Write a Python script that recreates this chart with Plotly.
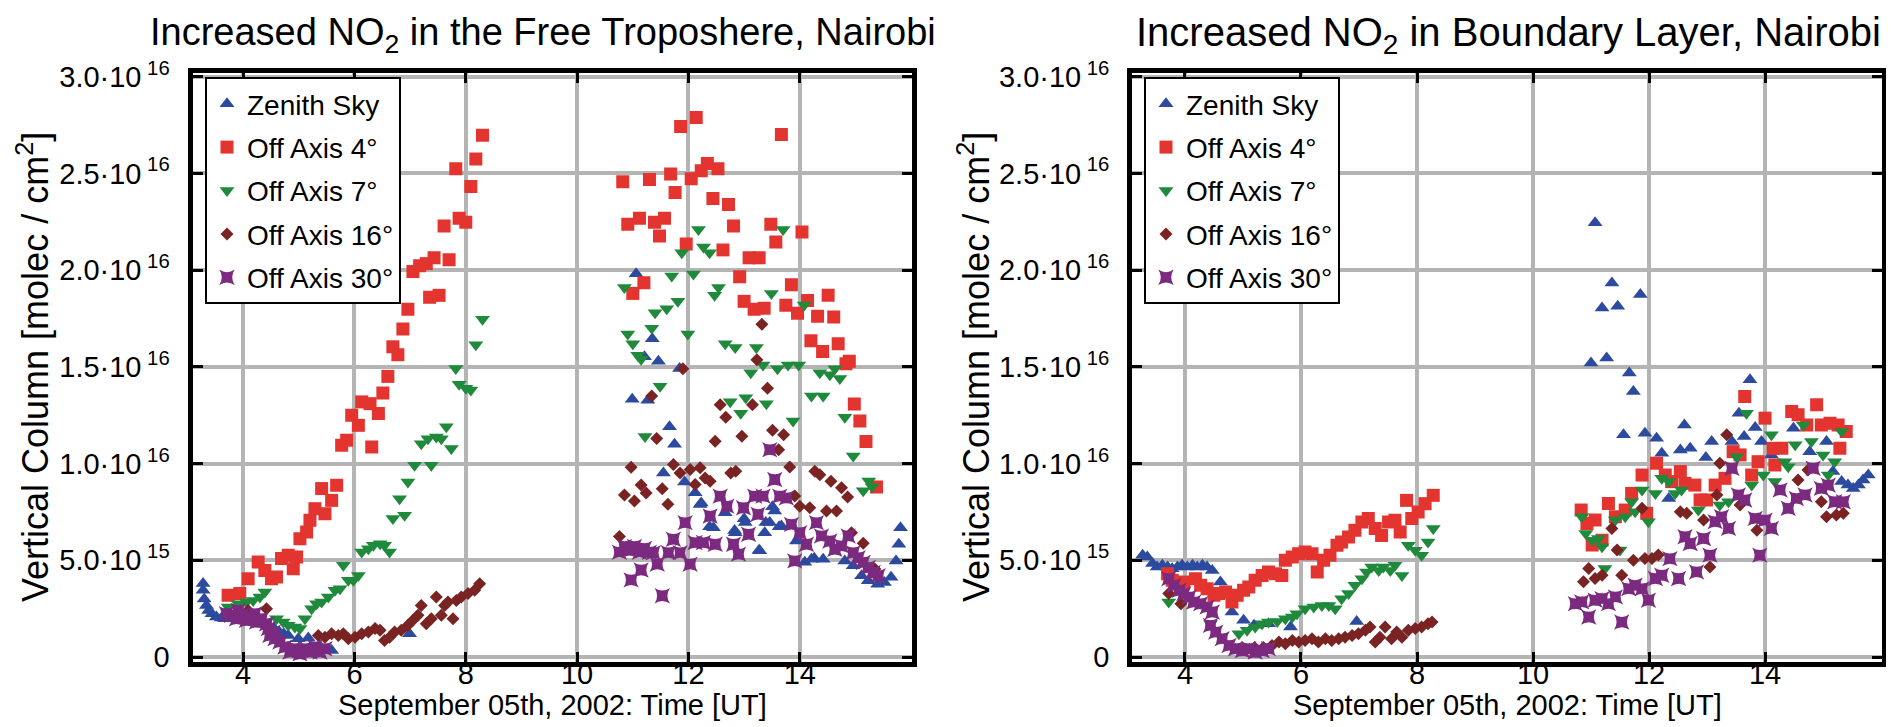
import plotly.graph_objects as go

# ---------------- data (vertical column in units of 1e16 molec/cm^2) ----------------
# Left panel: Increased NO2 in the Free Troposphere
ft_zen_t = [3.28, 3.28, 3.30, 3.34, 3.38, 3.44, 3.52, 3.61, 3.67, 3.75, 3.85, 3.95, 4.05, 4.15, 4.25, 4.35, 4.45, 4.55, 4.65, 4.73, 4.81, 4.99, 5.17, 5.38, 5.59, 6.99,
            10.99, 11.06, 11.21, 11.27, 11.35, 11.46, 11.55, 11.66, 11.75, 11.84, 11.93, 12.12, 12.21, 12.23, 12.38, 12.45, 12.66, 12.83, 12.84, 13.00, 13.02, 13.27, 13.28, 13.37, 13.39, 13.46, 13.51, 13.55, 13.63, 13.67, 13.94, 14.09, 14.21, 14.26, 14.42, 14.81, 14.96, 15.11, 15.23, 15.40, 15.52, 15.64, 15.73, 15.78, 15.81]
ft_zen_v = [0.38, 0.345, 0.30, 0.267, 0.241, 0.224, 0.207, 0.202, 0.198, 0.20, 0.20, 0.19, 0.19, 0.18, 0.18, 0.17, 0.16, 0.15, 0.13, 0.12, 0.112, 0.095, 0.098, 0.057, 0.034, 0.121,
            1.333, 1.982, 1.553, 1.328, 1.645, 1.529, 0.952, 1.19, 1.10, 1.492, 0.905, 0.849, 0.789, 0.797, 0.674, 0.669, 0.746, 0.654, 0.643, 0.715, 0.695, 0.552, 0.549, 0.643, 0.695, 0.695, 0.777, 0.755, 0.674, 0.678, 0.60, 0.49, 0.506, 0.511, 0.506, 0.497, 0.472, 0.42, 0.394, 0.377, 0.386, 0.412, 0.497, 0.583, 0.669]

ft_oa4_t = [3.73, 3.94, 4.09, 4.27, 4.39, 4.51, 4.60, 4.69, 4.81, 4.90, 4.96, 5.02, 5.14, 5.20, 5.29, 5.41, 5.47, 5.59, 5.68, 5.77, 5.86, 5.95, 6.07, 6.13, 6.28, 6.31, 6.43, 6.51, 6.60, 6.69, 6.78, 6.87, 6.96, 7.05, 7.17, 7.29, 7.35, 7.43, 7.52, 7.61, 7.70, 7.82, 7.88, 8.00, 8.09, 8.18, 8.30,
            10.82, 10.91, 11.00, 11.12, 11.20, 11.30, 11.39, 11.48, 11.57, 11.68, 11.76, 11.86, 11.96, 12.05, 12.14, 12.23, 12.34, 12.44, 12.53, 12.62, 12.72, 12.81, 12.92, 13.00, 13.09, 13.18, 13.27, 13.36, 13.48, 13.57, 13.67, 13.75, 13.85, 13.96, 14.04, 14.14, 14.20, 14.32, 14.41, 14.51, 14.61, 14.69, 14.83, 14.89, 14.98, 15.08, 15.19, 15.38]
ft_oa4_v = [0.319, 0.328, 0.405, 0.491, 0.448, 0.405, 0.414, 0.509, 0.526, 0.457, 0.517, 0.612, 0.647, 0.707, 0.767, 0.871, 0.741, 0.810, 0.888, 1.095, 1.121, 1.25, 1.198, 1.319, 1.31, 1.086, 1.259, 1.365, 1.451, 1.604, 1.563, 1.696, 1.798, 1.993, 2.023, 2.034, 1.86, 2.064, 1.87, 2.228, 2.054, 2.524, 2.268, 2.248, 2.432, 2.575, 2.698,
            2.457, 2.238, 1.88, 2.269, 1.935, 2.469, 2.248, 2.177, 2.269, 2.497, 2.401, 2.743, 2.136, 2.473, 2.79, 2.514, 2.551, 2.371, 2.524, 2.105, 2.34, 2.228, 1.966, 1.839, 2.064, 1.798, 2.064, 1.803, 2.238, 2.146, 2.702, 1.819, 1.925, 1.778, 2.197, 1.843, 1.635, 1.762, 1.58, 1.87, 1.758, 1.62, 1.516, 1.529, 1.308, 1.22, 1.114, 0.879]

ft_oa7_t = [3.73, 3.91, 4.06, 4.18, 4.30, 4.39, 4.60, 4.72, 4.81, 4.93, 5.02, 5.11, 5.23, 5.32, 5.41, 5.53, 5.65, 5.74, 5.80, 5.89, 5.98, 6.07, 6.13, 6.25, 6.34, 6.46, 6.54, 6.63, 6.69, 6.81, 6.90, 6.96, 7.08, 7.20, 7.32, 7.38, 7.47, 7.56, 7.65, 7.74, 7.82, 7.88, 8.00, 8.09, 8.18, 8.30,
            10.85, 10.91, 11.00, 11.09, 11.15, 11.22, 11.34, 11.40, 11.49, 11.61, 11.70, 11.81, 11.88, 11.99, 12.09, 12.18, 12.27, 12.38, 12.47, 12.54, 12.66, 12.75, 12.84, 12.94, 13.03, 13.12, 13.22, 13.34, 13.40, 13.49, 13.60, 13.70, 13.79, 13.88, 13.98, 14.08, 14.21, 14.36, 14.42, 14.54, 14.63, 14.72, 14.81, 14.96, 15.14, 15.24, 15.30]
ft_oa7_v = [0.259, 0.276, 0.284, 0.293, 0.310, 0.336, 0.198, 0.181, 0.164, 0.155, 0.147, 0.198, 0.25, 0.276, 0.284, 0.31, 0.345, 0.353, 0.474, 0.397, 0.397, 0.422, 0.543, 0.56, 0.578, 0.586, 0.578, 0.543, 0.716, 0.819, 0.733, 0.905, 0.991, 1.103, 1.129, 0.991, 1.138, 1.129, 1.19, 1.078, 1.492, 1.41, 1.39, 1.38, 1.615, 1.747,
            1.91, 1.67, 1.62, 1.56, 1.54, 1.14, 1.70, 1.78, 1.40, 1.80, 1.97, 1.84, 2.09, 1.67, 1.98, 2.21, 2.12, 2.09, 1.87, 1.91, 1.62, 1.32, 1.60, 1.26, 1.34, 1.47, 1.60, 1.51, 1.31, 1.88, 1.49, 2.21, 1.51, 1.22, 1.51, 1.82, 1.35, 1.47, 1.35, 1.46, 1.49, 1.44, 1.24, 1.04, 0.86, 0.91, 0.88]

ft_oa16_t = [4.09, 4.42, 5.35, 5.47, 5.59, 5.71, 5.80, 5.89, 6.01, 6.13, 6.25, 6.37, 6.46, 6.54, 6.63, 6.72, 6.84, 6.96, 7.05, 7.14, 7.20, 7.29, 7.38, 7.47, 7.56, 7.62, 7.68, 7.77, 7.83, 7.92, 8.04, 8.16, 8.25,
             10.76, 10.85, 10.97, 11.03, 11.15, 11.24, 11.34, 11.43, 11.53, 11.63, 11.73, 11.85, 11.90, 12.03, 12.12, 12.21, 12.30, 12.39, 12.48, 12.57, 12.67, 12.76, 12.85, 12.96, 13.15, 13.23, 13.32, 13.42, 13.51, 13.62, 13.71, 13.82, 13.91, 14.00, 14.18, 14.27, 14.36, 14.48, 14.56, 14.66, 14.75, 14.86, 14.93, 15.14, 15.35]
ft_oa16_v = [0.241, 0.25, 0.112, 0.103, 0.121, 0.112, 0.121, 0.095, 0.103, 0.121, 0.129, 0.147, 0.138, 0.086, 0.103, 0.129, 0.138, 0.164, 0.19, 0.216, 0.267, 0.172, 0.198, 0.31, 0.216, 0.267, 0.284, 0.198, 0.293, 0.31, 0.328, 0.345, 0.379,
             0.623, 0.838, 0.981, 0.807, 0.889, 0.848, 1.35, 1.13, 0.87, 0.79, 0.995, 0.952, 1.49, 0.969, 0.892, 0.978, 0.926, 0.909, 1.115, 1.304, 1.24, 0.952, 0.961, 1.141, 1.304, 1.537, 1.72, 1.39, 1.172, 1.072, 1.149, 0.983, 0.832, 0.78, 0.772, 0.961, 0.943, 0.755, 0.909, 0.755, 0.875, 0.828, 0.643, 0.588, 0.455]

ft_oa30_t = [3.70, 3.79, 3.88, 3.91, 3.97, 4.06, 4.15, 4.21, 4.24, 4.33, 4.42, 4.45, 4.48, 4.54, 4.57, 4.66, 4.75, 4.84, 4.93, 5.02, 5.11, 5.20, 5.29, 5.38, 5.47,
             10.76, 10.85, 10.94, 10.97, 11.03, 11.12, 11.15, 11.21, 11.30, 11.37, 11.44, 11.53, 11.64, 11.73, 11.85, 11.94, 12.03, 12.12, 12.27, 12.39, 12.48, 12.57, 12.69, 12.81, 12.90, 12.99, 13.08, 13.19, 13.25, 13.34, 13.46, 13.55, 13.64, 13.76, 13.85, 13.91, 14.00, 14.12, 14.30, 14.39, 14.54, 14.63, 14.75, 14.87, 14.96, 15.05, 15.14, 15.23, 15.32, 15.41]
ft_oa30_v = [0.224, 0.216, 0.198, 0.241, 0.216, 0.19, 0.207, 0.224, 0.181, 0.198, 0.172, 0.147, 0.112, 0.129, 0.095, 0.078, 0.052, 0.026, 0.043, 0.017, 0.043, 0.026, 0.052, 0.026, 0.043,
             0.542, 0.572, 0.552, 0.399, 0.572, 0.542, 0.45, 0.562, 0.542, 0.54, 0.48, 0.317, 0.54, 0.609, 0.54, 0.695, 0.48, 0.592, 0.592, 0.729, 0.583, 0.832, 0.78, 0.583, 0.532, 0.772, 0.635, 0.832, 0.738, 0.832, 1.072, 0.918, 0.832, 0.823, 0.686, 0.497, 0.643, 0.583, 0.695, 0.626, 0.60, 0.557, 0.575, 0.626, 0.54, 0.514, 0.489, 0.463, 0.437, 0.42]

# Right panel: Increased NO2 in Boundary Layer
bl_zen_t = [3.27, 3.35, 3.44, 3.52, 3.61, 3.70, 3.78, 3.87, 3.95, 4.04, 4.13, 4.21, 4.30, 4.38, 4.47, 4.61, 4.81, 5.01, 5.19, 5.44, 5.82, 6.96,
            11.00, 11.07, 11.19, 11.27, 11.36, 11.46, 11.56, 11.66, 11.73, 11.85, 11.93, 12.13, 12.22, 12.34, 12.54, 12.61, 12.71, 12.98, 13.08, 13.43, 13.55, 13.64, 13.74, 13.83, 13.94, 14.11, 14.49, 14.77, 15.06, 15.17, 15.32, 15.43, 15.52, 15.61, 15.69, 15.78]
bl_zen_v = [0.526, 0.517, 0.483, 0.466, 0.474, 0.466, 0.457, 0.466, 0.474, 0.466, 0.474, 0.466, 0.474, 0.466, 0.448, 0.388, 0.233, 0.19, 0.164, 0.172, 0.155, 0.184,
            1.52, 2.245, 1.805, 1.546, 1.934, 1.813, 1.149, 1.468, 1.373, 1.874, 1.157, 1.131, 1.054, 0.82, 1.071, 1.200, 1.079, 1.031, 1.114, 1.114, 1.261, 1.14, 1.434, 1.187, 1.114, 1.045, 1.183, 1.062, 1.114, 0.959, 0.907, 0.889, 0.872, 0.889, 0.915, 0.941]

bl_oa4_t = [3.70, 3.78, 3.98, 4.18, 4.27, 4.38, 4.50, 4.58, 4.70, 4.81, 4.90, 5.01, 5.10, 5.21, 5.33, 5.44, 5.56, 5.67, 5.73, 5.85, 5.96, 6.07, 6.19, 6.28, 6.39, 6.50, 6.62, 6.70, 6.82, 6.93, 7.05, 7.16, 7.28, 7.39, 7.51, 7.62, 7.71, 7.82, 7.91, 8.02, 8.14, 8.28,
            10.83, 10.93, 11.02, 11.07, 11.19, 11.30, 11.42, 11.59, 11.70, 11.88, 11.96, 12.13, 12.28, 12.39, 12.54, 12.62, 12.79, 12.88, 12.99, 13.14, 13.31, 13.45, 13.57, 13.65, 13.77, 13.88, 14.00, 14.14, 14.17, 14.29, 14.46, 14.57, 14.72, 14.89, 14.97, 15.12, 15.26, 15.29, 15.40]
bl_oa4_v = [0.431, 0.397, 0.388, 0.405, 0.371, 0.353, 0.319, 0.328, 0.336, 0.284, 0.319, 0.345, 0.362, 0.397, 0.422, 0.44, 0.431, 0.422, 0.50, 0.517, 0.534, 0.543, 0.534, 0.44, 0.50, 0.526, 0.578, 0.595, 0.621, 0.655, 0.698, 0.716, 0.664, 0.629, 0.698, 0.707, 0.647, 0.81, 0.716, 0.75, 0.793, 0.836,
            0.76, 0.691, 0.579, 0.708, 0.604, 0.794, 0.725, 0.76, 0.846, 0.941, 0.743, 1.002, 0.941, 0.907, 0.959, 0.898, 0.889, 0.812, 0.812, 0.889, 0.924, 1.062, 1.045, 1.347, 0.941, 1.01, 1.235, 1.079, 0.993, 1.079, 1.269, 1.252, 1.2, 1.304, 1.2, 1.209, 1.2, 1.079, 1.166]

bl_oa7_t = [3.72, 4.44, 4.93, 5.07, 5.21, 5.33, 5.44, 5.59, 5.73, 5.85, 5.93, 6.07, 6.22, 6.36, 6.48, 6.59, 6.70, 6.82, 6.93, 7.05, 7.13, 7.22, 7.34, 7.42, 7.54, 7.62, 7.74, 7.85, 7.97, 8.08, 8.19, 8.28,
            10.84, 10.91, 11.02, 11.13, 11.19, 11.24, 11.42, 11.50, 11.59, 11.70, 11.76, 11.88, 11.99, 12.11, 12.22, 12.34, 12.45, 12.56, 12.85, 13.22, 13.37, 13.51, 13.68, 13.77, 13.97, 14.11, 14.17, 14.34, 14.40, 14.52, 14.66, 14.80, 15.00, 15.09, 15.20, 15.32]
bl_oa7_v = [0.284, 0.172, 0.121, 0.138, 0.155, 0.172, 0.181, 0.184, 0.198, 0.207, 0.224, 0.25, 0.259, 0.267, 0.267, 0.25, 0.302, 0.328, 0.371, 0.405, 0.44, 0.466, 0.448, 0.466, 0.448, 0.474, 0.422, 0.578, 0.552, 0.526, 0.595, 0.664,
            0.725, 0.639, 0.604, 0.613, 0.57, 0.458, 0.708, 0.553, 0.725, 0.803, 0.751, 0.864, 0.70, 0.846, 0.924, 0.907, 0.846, 0.864, 0.76, 0.786, 0.803, 1.036, 1.261, 0.889, 0.941, 1.149, 0.907, 1.01, 0.984, 1.097, 1.2, 1.114, 1.045, 0.941, 1.01, 1.166]

bl_oa16_t = [3.72, 3.93, 5.00, 5.20, 5.35, 5.50, 5.62, 5.73, 5.85, 5.96, 6.07, 6.19, 6.30, 6.42, 6.53, 6.65, 6.76, 6.88, 6.99, 7.11, 7.19, 7.28, 7.36, 7.45, 7.56, 7.65, 7.74, 7.85, 7.97, 8.08, 8.19, 8.26,
             10.87, 10.96, 11.07, 11.19, 11.36, 11.45, 11.53, 11.73, 11.88, 11.93, 12.05, 12.16, 12.54, 12.65, 12.94, 13.05, 13.17, 13.22, 13.34, 13.57, 13.86, 14.57, 14.74, 14.97, 15.06, 15.23, 15.35]
bl_oa16_v = [0.328, 0.276, 0.04, 0.05, 0.05, 0.06, 0.078, 0.069, 0.086, 0.078, 0.086, 0.095, 0.078, 0.095, 0.086, 0.095, 0.103, 0.112, 0.121, 0.138, 0.155, 0.078, 0.103, 0.155, 0.095, 0.129, 0.103, 0.138, 0.147, 0.155, 0.172, 0.181,
             0.389, 0.458, 0.406, 0.423, 0.665, 0.553, 0.423, 0.501, 0.769, 0.509, 0.509, 0.527, 0.751, 0.743, 0.708, 0.466, 0.838, 1.002, 1.149, 0.786, 0.656, 0.915, 0.967, 0.803, 0.725, 0.734, 0.743]

bl_oa30_t = [3.72, 3.81, 3.90, 3.98, 4.07, 4.15, 4.27, 4.38, 4.44, 4.47, 4.53, 4.64, 4.76, 4.87, 4.99, 5.10, 5.21, 5.33, 5.44,
             10.73, 10.84, 10.96, 11.07, 11.19, 11.30, 11.42, 11.53, 11.65, 11.76, 11.88, 11.99, 12.11, 12.22, 12.36, 12.51, 12.62, 12.71, 12.82, 12.94, 13.05, 13.14, 13.25, 13.37, 13.43, 13.54, 13.65, 13.83, 13.91, 14.00, 14.11, 14.26, 14.40, 14.54, 14.69, 14.83, 14.97, 15.09, 15.20, 15.35]
bl_oa30_v = [0.405, 0.371, 0.345, 0.328, 0.31, 0.284, 0.276, 0.259, 0.164, 0.233, 0.129, 0.095, 0.06, 0.043, 0.034, 0.043, 0.026, 0.034, 0.043,
             0.276, 0.285, 0.207, 0.294, 0.302, 0.276, 0.311, 0.181, 0.354, 0.371, 0.354, 0.294, 0.406, 0.423, 0.509, 0.406, 0.622, 0.587, 0.44, 0.613, 0.527, 0.70, 0.725, 0.665, 0.976, 0.838, 0.812, 0.717, 0.527, 0.708, 0.665, 0.864, 0.769, 0.82, 0.838, 0.976, 0.872, 0.889, 0.803, 0.803]

series_names = ["Zenith Sky", "Off Axis 4°", "Off Axis 7°", "Off Axis 16°", "Off Axis 30°"]
x_tickvals = [4, 6, 8, 10, 12, 14]
y_tickvals = [0, 0.5, 1.0, 1.5, 2.0, 2.5, 3.0]
y_ticktext = ["0", "5.0·10<sup> 15</sup>", "1.0·10<sup> 16</sup>", "1.5·10<sup> 16</sup>",
              "2.0·10<sup> 16</sup>", "2.5·10<sup> 16</sup>", "3.0·10<sup> 16</sup>"]
panel_titles = ["Increased NO<sub>2</sub> in the Free Troposhere, Nairobi",
                "Increased NO<sub>2</sub> in Boundary Layer, Nairobi"]
x_title = "September 05th, 2002: Time [UT]"
y_title = "Vertical Column [molec / cm<sup>2</sup>]"

# ---------------- styling ----------------
FONT = "Liberation Sans, Arial, Helvetica, sans-serif"
colors = ["#2c4a9e", "#e3342f", "#1f8a3b", "#7a2323", "#7b2a80"]
symbols = ["triangle-up", "square", "triangle-down", "diamond", "star-square"]
sizes = [13, 13, 13, 10, 14]

panels = [
    [(ft_zen_t, ft_zen_v), (ft_oa4_t, ft_oa4_v), (ft_oa7_t, ft_oa7_v), (ft_oa16_t, ft_oa16_v), (ft_oa30_t, ft_oa30_v)],
    [(bl_zen_t, bl_zen_v), (bl_oa4_t, bl_oa4_v), (bl_oa7_t, bl_oa7_v), (bl_oa16_t, bl_oa16_v), (bl_oa30_t, bl_oa30_v)],
]

fig = go.Figure()
for p, series in enumerate(panels):
    for i, (t, v) in enumerate(series):
        fig.add_trace(go.Scatter(
            x=t, y=v, mode="markers", name=series_names[i],
            xaxis="x" if p == 0 else "x2", yaxis="y" if p == 0 else "y2",
            legend="legend" if p == 0 else "legend2",
            legendgroup=f"g{p}{i}",
            marker=dict(symbol=symbols[i], size=sizes[i], color=colors[i], line=dict(width=0)),
        ))

W, H = 1894, 727
xdom = [[184.5 / W, 904.2 / W], [1124.2 / W, 1874.2 / W]]
ydom = [1 - 653.5 / H, 1 - 64.5 / H]

def xax(dom):
    return dict(domain=dom, range=[3.09, 16.02], tickvals=x_tickvals,
                showgrid=True, gridcolor="#b4b4b4", gridwidth=4, zeroline=False,
                showline=True, linecolor="black", linewidth=5, mirror="allticks",
                ticks="inside", ticklen=10, tickwidth=3, tickcolor="black",
                ticklabelstandoff=-17,
                tickfont=dict(family=FONT, size=29, color="black"))

def yax(anchor):
    return dict(domain=ydom, range=[-0.023, 3.022], tickvals=y_tickvals, ticktext=y_ticktext,
                anchor=anchor,
                showgrid=True, gridcolor="#b4b4b4", gridwidth=4, zeroline=False,
                showline=True, linecolor="black", linewidth=5, mirror="allticks",
                ticks="inside", ticklen=10, tickwidth=3, tickcolor="black",
                ticklabelstandoff=12,
                tickfont=dict(family=FONT, size=29, color="black"))

leg_common = dict(xanchor="left", yanchor="top", bgcolor="white", bordercolor="black",
                  borderwidth=2, font=dict(family=FONT, size=28, color="black"),
                  traceorder="grouped", tracegroupgap=4, itemclick=False)

ann = []
title_x = [535 / W, 1500 / W]
title_size = [38, 40]
ytitle_x = [25 / W, 966 / W]
for p in range(2):
    ann.append(dict(text=panel_titles[p], x=title_x[p], y=1 - 27 / H, xref="paper", yref="paper",
                    xanchor="center", yanchor="middle", showarrow=False,
                    font=dict(family=FONT, size=title_size[p], color="black")))
    ann.append(dict(text=x_title, x=(xdom[p][0] + xdom[p][1]) / 2, y=1 - 697 / H, xref="paper", yref="paper",
                    xanchor="center", yanchor="middle", showarrow=False,
                    font=dict(family=FONT, size=29, color="black")))
    ann.append(dict(text=y_title, x=ytitle_x[p], y=1 - 359 / H, xref="paper", yref="paper",
                    xanchor="center", yanchor="middle", showarrow=False, textangle=-90,
                    font=dict(family=FONT, size=36, color="black")))

fig.update_layout(
    width=W, height=H, margin=dict(l=0, r=0, t=0, b=0),
    paper_bgcolor="white", plot_bgcolor="white",
    font=dict(family=FONT, color="black"),
    xaxis=xax(xdom[0]), yaxis=yax("x"),
    xaxis2=xax(xdom[1]), yaxis2=yax("x2"),
    legend=dict(x=197 / W, y=1 - 69 / H, **leg_common),
    legend2=dict(x=1136 / W, y=1 - 69 / H, **leg_common),
    annotations=ann,
)
fig.update_xaxes(automargin=False)
fig.update_yaxes(automargin=False)

fig.write_html("out.html")
